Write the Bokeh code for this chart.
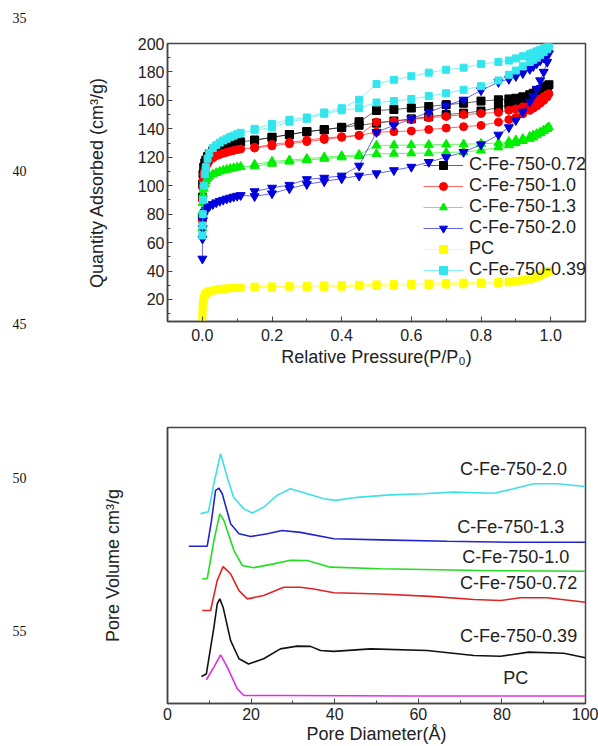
from bokeh.plotting import figure
from bokeh.models import (Range1d, SingleIntervalTicker, FixedTicker, Legend, LegendItem, Label,
                          PrintfTickFormatter)
from bokeh.layouts import column, row
from bokeh.core.properties import value
from bokeh.embed import file_html
from bokeh.resources import INLINE

FONT = "Liberation Sans"

# ---------------- top chart data (N2 isotherms) ----------------
P_ADS = [0.0002, 0.0005, 0.001, 0.002, 0.004, 0.007, 0.01,
         0.015, 0.02, 0.03, 0.04, 0.05, 0.06, 0.07, 0.08, 0.09, 0.10, 0.11,
         0.15, 0.20, 0.25, 0.30, 0.35, 0.40, 0.45, 0.50, 0.55, 0.60, 0.65, 0.70, 0.75, 0.80, 0.85,
         0.88, 0.90, 0.92, 0.94, 0.95, 0.96, 0.97, 0.98, 0.99, 0.995]
P_DES = [0.99, 0.98, 0.97, 0.96, 0.95, 0.94, 0.92, 0.90, 0.88, 0.85, 0.80, 0.75, 0.70,
         0.65, 0.60, 0.55, 0.50, 0.45, 0.40, 0.35, 0.30, 0.25, 0.20, 0.15]

q072_ads = [78, 92, 101, 108, 113, 116, 118,
            120.5, 122.5, 124.5, 126, 127, 127.8, 128.5, 129.2, 129.8, 130.3, 130.8,
            132, 134, 136, 138, 139.5, 141, 142.5, 144, 145.5, 147, 148.5, 150, 151, 152.5, 155,
            157, 159, 161, 163, 164, 165.5, 167, 168.5, 170, 171]
q072_des = [170, 169, 167.5, 166.5, 165, 164, 162.5, 161.5, 161, 160.4, 159.5, 158, 157,
            155.7, 154.6, 153.6, 152.9, 145, 141, 139.3, 138, 136, 134, 132]

q10_ads = [75, 90, 99, 104, 108, 111, 113,
           115.5, 117.5, 119.5, 121, 122, 122.8, 123.5, 124.2, 124.8, 125.3, 125.8,
           126.5, 128, 129.5, 131, 132.5, 134, 135.3, 137.7, 138, 138.5, 139.5, 140.5, 141.5, 142.4, 144.7,
           146.5, 148, 150.5, 153, 154.5, 156, 158, 160, 162.5, 164.7]
q10_des = [164, 162.5, 161, 159.5, 158, 157, 155.5, 154, 153, 151.5, 150.8, 150, 148.7,
           147.8, 146.6, 145.3, 144.7, 135.5, 134.5, 133.5, 132, 130.5, 129, 127]

q13_ads = [70, 82, 88, 94, 98, 101, 103,
           105, 106.5, 108, 109, 110, 110.7, 111.3, 111.9, 112.4, 112.9, 113.3,
           113.8, 115.5, 117, 118, 119, 120, 121, 122.4, 122.6, 122.8, 123, 123.3, 123.8, 124.8, 127,
           128.5, 130, 131.5, 133, 134, 135.5, 137, 138.5, 140, 141.2]
q13_des = [140.5, 139, 137.5, 136.5, 135.5, 134.5, 133, 132, 131, 130, 129.5, 129.2, 129,
           128.8, 128.6, 128.4, 128.3, 121.8, 121, 120, 119, 118, 117, 115]

q20_ads = [48.6, 62.7, 70, 75.6, 79, 81.4, 83,
           84.5, 85.5, 87, 88.2, 89.2, 90, 90.8, 91.5, 92.2, 92.8, 93.3,
           92.5, 94.5, 98, 101, 103, 105, 107, 108.6, 110.8, 113.2, 116.6, 120, 123.6, 129, 135.8,
           141, 146, 152, 159, 163, 168, 174, 180, 187, 193]
q20_des = [192, 190, 188, 186, 184, 182, 179, 177, 175, 172.8, 167, 160.4, 156.4,
           151.7, 147, 142.4, 137.7, 114, 107, 105.5, 104.5, 100.5, 98.5, 96]

qpc_ads = [7.6, 11, 14.6, 18, 21, 23, 24,
           25, 25.7, 26.3, 26.8, 27.2, 27.5, 27.7, 27.9, 28.1, 28.2, 28.3,
           28.5, 28.8, 29, 28.5, 28.8, 29, 29.3, 29.5, 29.7, 30, 30.2, 30.5, 30.7, 31, 31.3,
           32, 32.5, 33.3, 34.3, 35, 35.8, 36.7, 37.8, 39, 40]
qpc_des = [39.5, 38.3, 37.2, 36.3, 35.5, 34.8, 33.8, 33, 32.5, 32.3, 32, 31.8, 31.5,
           31.3, 31, 30.8, 30.6, 30.3, 30, 29.8, 29.6, 29.4, 29.2, 29]

q039_ads = [65, 72, 80, 90, 100, 108, 113,
            119, 123, 126.5, 128.5, 130.3, 131.8, 133, 134.2, 135.2, 136.2, 137.2,
            139, 141, 145, 147, 150.6, 153, 154.5, 158.5, 159.5, 161, 163, 165, 167.5, 170, 174,
            178, 181, 184, 187, 188.5, 190, 192, 194, 196, 198]
q039_des = [197.5, 196.5, 195.5, 194.5, 193.5, 192.5, 191, 189.5, 188, 187, 185.5, 183, 181.5,
            179.5, 177, 174.5, 171.5, 160.4, 154.5, 151.5, 148, 146.4, 143.5, 140]

iso_labels = ["C-Fe-750-0.72", "C-Fe-750-1.0", "C-Fe-750-1.3", "C-Fe-750-2.0", "PC", "C-Fe-750-0.39"]
iso_colors = ["#000000", "#ff0000", "#00ee00", "#0000dd", "#ffff00", "#33e6ee"]
iso_markers = ["square", "circle", "triangle", "inverted_triangle", "square", "square"]
iso_sizes = [8, 8, 9, 9, 7, 7]
iso_ads = [q072_ads, q10_ads, q13_ads, q20_ads, qpc_ads, q039_ads]
iso_des = [q072_des, q10_des, q13_des, q20_des, qpc_des, q039_des]

# ---------------- bottom chart data (pore size distribution, offset curves) ----------------
d_20 = [7.9, 9.8, 11.1, 12.7, 14.3, 15.8, 18.2, 20.3, 23.0, 26.2, 29.4, 33.4, 37.4, 40.2, 45.4, 53.3, 61.3, 68.5, 78.1, 82.8, 87.6, 93.2, 100]
v_20 = [68.8, 69.5, 79.7, 90.5, 82.0, 74.7, 70.6, 69.0, 71.1, 75.4, 77.8, 76.0, 74.2, 73.6, 74.7, 75.6, 76.0, 76.6, 76.2, 77.8, 79.6, 79.6, 78.6]
d_13 = [5.1, 9.5, 10.5, 11.5, 12.3, 13.1, 15.1, 17.1, 19.9, 23.9, 27.4, 31.8, 39.8, 51.0, 66.9, 82.8, 100]
v_13 = [57, 57, 66, 77.2, 78, 76, 65.1, 61.5, 60.5, 61.5, 62.7, 62.0, 59.7, 59.3, 58.8, 58.4, 58.4]
d_10 = [8.3, 9.5, 11.1, 12.5, 13.5, 15.9, 17.9, 20.6, 25.4, 29.4, 33.4, 39.0, 51.0, 74.9, 100]
v_10 = [45.2, 45.2, 59, 68.7, 66.3, 55.4, 50, 49.2, 50.6, 51.9, 51.8, 49.4, 48.8, 48.2, 47.9]
d_072 = [8.3, 10.3, 11.9, 13.3, 15.1, 17.1, 19.1, 23.0, 27.8, 31.8, 35.0, 39.8, 51.0, 62.9, 73.3, 79.7, 84.4, 90.8, 100]
v_072 = [33.7, 33.7, 44.6, 49.6, 47, 40.9, 37.9, 39.1, 42.1, 42.1, 41.5, 40.1, 39.7, 38.8, 37.7, 37.3, 38.3, 38.3, 36.7]
d_039 = [8.1, 9.3, 11.1, 11.9, 12.5, 13.3, 15.1, 17.1, 19.4, 23.0, 27.0, 31.0, 34.2, 36.6, 39.8, 48.6, 62.1, 73.3, 79.7, 86.4, 94.8, 100]
v_039 = [9.8, 10.7, 27.6, 36.1, 37.9, 34.9, 22.8, 16.2, 14.3, 16.2, 19.8, 20.8, 20.7, 19.2, 18.9, 19.8, 19.2, 17.4, 17.1, 18.6, 18.2, 16.6]
d_pc = [9.3, 11.1, 12.7, 14.3, 16.7, 18.3, 23.9, 27.0, 58.9, 100]
v_pc = [8.6, 13.2, 17.6, 13.2, 5.3, 2.9, 2.9, 2.9, 2.7, 2.7]

psd_labels = ["C-Fe-750-2.0", "C-Fe-750-1.3", "C-Fe-750-1.0", "C-Fe-750-0.72", "C-Fe-750-0.39", "PC"]
psd_colors = ["#3ee0e6", "#2424cc", "#22dd22", "#e02424", "#111111", "#e030e0"]
psd_d = [d_20, d_13, d_10, d_072, d_039, d_pc]
psd_v = [v_20, v_13, v_10, v_072, v_039, v_pc]
psd_label_x = [82.8, 82.1, 83.3, 84.0, 84.0, 83.3]
psd_label_y = [84.8, 63.8, 52.9, 43.5, 24.3, 9.1]

# manuscript line numbers in the left margin
line_numbers = ["35", "40", "45", "50", "55"]
line_number_rows = [17, 170, 323, 477, 630]


def style_axis(ax, tick_font="16px"):
    ax.axis_line_color = "#444444"
    ax.axis_line_width = 1.5
    ax.major_tick_in = 5
    ax.major_tick_out = 0
    ax.minor_tick_in = 3
    ax.minor_tick_out = 0
    ax.major_tick_line_color = "#444444"
    ax.minor_tick_line_color = "#444444"
    ax.major_label_text_font = FONT
    ax.major_label_text_font_size = tick_font
    ax.major_label_text_color = "#222222"
    ax.axis_label_text_font = FONT
    ax.axis_label_text_font_size = "18px"
    ax.axis_label_text_font_style = "normal"
    ax.axis_label_text_color = "#222222"


LEFT_W = 30
MAIN_W = 598 - LEFT_W

# ---------------- left margin strip with line numbers ----------------
p0 = figure(width=LEFT_W, height=746, output_backend="svg", toolbar_location=None,
            x_range=Range1d(0, LEFT_W), y_range=Range1d(746, 0),
            min_border=0, x_axis_location=None, y_axis_location=None)
p0.grid.visible = False
p0.outline_line_color = None
p0.text(x=[19] * len(line_numbers), y=line_number_rows, text=line_numbers,
        text_font=value("Liberation Serif"), text_font_size=value("14px"),
        text_align="center", text_baseline="middle", text_color="#111111")

# ---------------- top figure ----------------
p1 = figure(width=MAIN_W, height=380, output_backend="svg", toolbar_location=None,
            x_range=Range1d(-0.1, 1.1), y_range=Range1d(4.5, 200),
            min_border_left=167 - LEFT_W, min_border_top=43, min_border_right=13, min_border_bottom=59)
p1.grid.visible = False
p1.outline_line_color = "#444444"
p1.outline_line_width = 1.5
p1.xaxis.ticker = SingleIntervalTicker(interval=0.2, num_minor_ticks=2)
p1.xaxis.formatter = PrintfTickFormatter(format="%.1f")
p1.yaxis.ticker = SingleIntervalTicker(interval=20, num_minor_ticks=2)
style_axis(p1.xaxis[0])
style_axis(p1.yaxis[0])
p1.xaxis.major_label_standoff = 7
p1.xaxis.axis_label_standoff = 3
p1.yaxis.major_label_standoff = 3
p1.yaxis.axis_label_standoff = 28
p1.xaxis.axis_label = "Relative Pressure(P/P\u2080)"
p1.yaxis.axis_label = "Quantity Adsorbed (cm\u00b3/g)"

items = []
for lab, col, mk, sz, qa, qd in zip(iso_labels, iso_colors, iso_markers, iso_sizes, iso_ads, iso_des):
    la = p1.line(P_ADS, qa, line_color=col, line_width=1, line_alpha=0.6)
    p1.line(P_DES, qd, line_color=col, line_width=1, line_alpha=0.6)
    sa = p1.scatter(P_ADS, qa, marker=mk, size=sz, fill_color=col, line_color=col)
    p1.scatter(P_DES, qd, marker=mk, size=sz, fill_color=col, line_color=col)
    items.append(LegendItem(label=lab, renderers=[la, sa]))

legend = Legend(items=items, location=(256, 41), border_line_color=None,
                background_fill_alpha=0, glyph_width=40, glyph_height=20,
                label_height=20, spacing=0, padding=0, margin=0, label_standoff=6,
                label_text_font=FONT, label_text_font_size="18px", label_text_color="#222222")
p1.add_layout(legend)

# ---------------- bottom figure ----------------
p2 = figure(width=MAIN_W, height=366, output_backend="svg", toolbar_location=None,
            x_range=Range1d(0, 100), y_range=Range1d(0, 100),
            min_border_left=167 - LEFT_W, min_border_top=47, min_border_right=13, min_border_bottom=43)
p2.grid.visible = False
p2.outline_line_color = "#444444"
p2.outline_line_width = 1.5
p2.xaxis.ticker = SingleIntervalTicker(interval=20, num_minor_ticks=2)
p2.yaxis.ticker = FixedTicker(ticks=[])
style_axis(p2.xaxis[0])
style_axis(p2.yaxis[0])
p2.xaxis.major_label_standoff = 4
p2.xaxis.axis_label_standoff = 1
p2.yaxis.major_label_standoff = 0
p2.yaxis.axis_label_standoff = 45
p2.xaxis.axis_label = "Pore Diameter(\u00c5)"
p2.yaxis.axis_label = "Pore Volume cm\u00b3/g"

for col, dd, vv in zip(psd_colors, psd_d, psd_v):
    p2.line(dd, vv, line_color=col, line_width=1.6)

for lab, lx, ly in zip(psd_labels, psd_label_x, psd_label_y):
    p2.add_layout(Label(x=lx, y=ly, text=lab, text_font=FONT, text_font_size="18px",
                        text_align="center", text_baseline="middle", text_color="#222222"))

layout = row(p0, column(p1, p2, spacing=0), spacing=0)
open("out.html", "w").write(file_html(layout, INLINE))
